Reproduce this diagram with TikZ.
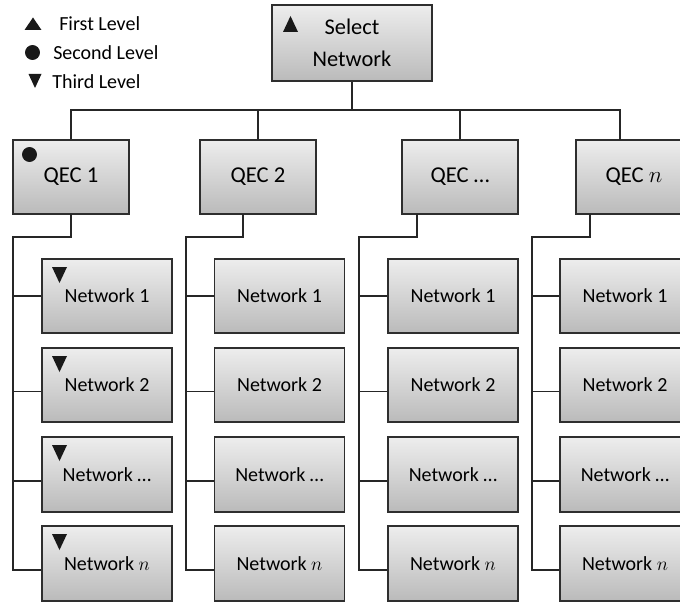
\documentclass[tikz,border=0pt]{standalone}
\usepackage{fontspec}
\setmainfont{Carlito}
\begin{document}
\begin{tikzpicture}[x=0.75pt,y=-0.75pt,
  box/.style={draw=black!82, line width=1.4pt, top color=black!7, bottom color=black!27,
    inner sep=0pt, text=black, font=\fontsize{15}{18}\selectfont},
  qbox/.style={box, minimum width=87pt, minimum height=55.5pt, font=\fontsize{17}{20}\selectfont},
  nbox/.style={box, minimum width=97.5pt, minimum height=56pt},
  conn/.style={draw=black!85, line width=1.1pt},
  mk/.style={fill=black!90},
  legtext/.style={anchor=west, inner sep=0pt, text=black, font=\fontsize{15}{18}\selectfont}]
\useasboundingbox (0,0) rectangle (680,602);
\clip (0,0) rectangle (680,602);

% legend
\fill[mk] (24.5,30) -- (41.5,30) -- (33,17.5) -- cycle;
\node[legtext] (l1) at (59,23.3) {First Level};
\fill[mk] (32.5,52.5) circle[radius=5.6pt];
\node[legtext] (l2) at (53,53) {Second Level};
\fill[mk] (28.5,74) -- (41.5,74) -- (35,88) -- cycle;
\node[legtext] (l3) at (52,82) {Third Level};

% top node
\node[box, minimum width=120pt, minimum height=57pt, align=center,
  font=\fontsize{16.8}{25.5}\selectfont] (sel) at (352,43) {\raisebox{-1.5pt}{Select}\\Network};

% QEC nodes
\node[qbox] (q1) at (71,177) {QEC 1};
\node[qbox] (q2) at (258,177) {QEC 2};
\node[qbox] (q3) at (460,177) {QEC …};
\node[qbox] (q4) at (634,177) {QEC $n$};

% network nodes
\foreach \c/\x in {1/107,2/279.5,3/453,4/625}{
  \node[nbox] (n\c1) at (\x,296) {Network 1};
  \node[nbox] (n\c2) at (\x,385) {Network 2};
  \node[nbox] (n\c3) at (\x,474.5) {Network …};
  \node[nbox] (n\c4) at (\x,563.5) {Network $n$};
}

% top connectors
\coordinate (bus) at (352,110);
\coordinate (q4top) at (620,140);
\draw[conn] (sel.south) -- (sel.south |- bus);
\draw[conn] (q1.north) |- (q4top |- bus) -- (q4top);
\draw[conn] (q2.north) -- (q2.north |- bus);
\draw[conn] (q3.north) -- (q3.north |- bus);

% column connectors
\foreach \c/\s/\v in {1/71/13,2/243/186,3/417/359,4/590/532}{
  \coordinate (s\c) at (\s,214);
  \coordinate (v\c) at (\v,237);
  \coordinate (b\c2) at ([yshift=-5pt]n\c2.west);
  \coordinate (b\c3) at ([yshift=-5pt]n\c3.west);
  \coordinate (b\c4) at ([yshift=-5pt]n\c4.west);
  \draw[conn] (s\c) |- (v\c) |- (b\c4);
  \draw[conn] (v\c |- n\c1.west) -- (n\c1.west);
  \draw[conn] (v\c |- b\c2) -- (b\c2);
  \draw[conn] (v\c |- b\c3) -- (b\c3);
}

% level markers
\fill[mk] (283,32) -- (298,32) -- (290.5,16) -- cycle;
\fill[mk] (29.5,154.5) circle[radius=5.6pt];
\foreach \t in {259,348,437,526}{
  \fill[mk] (52,{\t+8}) -- (67,{\t+8}) -- (59.5,{\t+24}) -- cycle;
}
\end{tikzpicture}
\end{document}
